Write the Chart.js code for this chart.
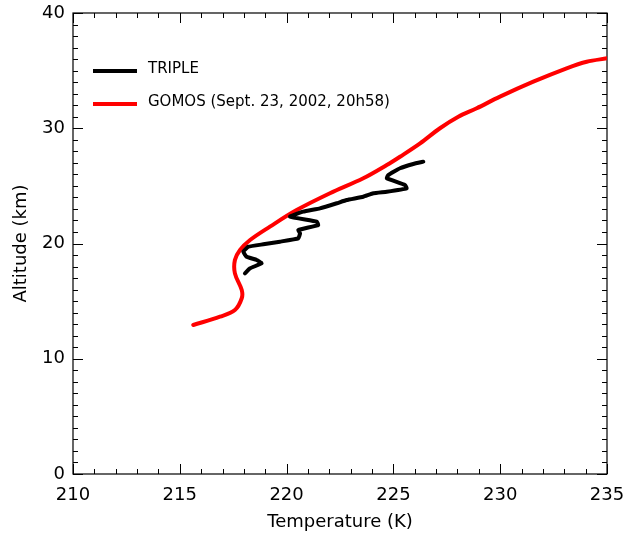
<!DOCTYPE html>
<html>
<head>
<meta charset="utf-8">
<script src="https://cdn.jsdelivr.net/npm/chart.js@4"></script>
<style>
  html, body { margin: 0; padding: 0; background: #ffffff; }
  #wrap { width: 626px; height: 534px; }
</style>
</head>
<body>
<div id="wrap"><canvas id="chart" width="626" height="534"></canvas></div>
<script>
// TRIPLE balloon profile: temperature (K) vs altitude (km)
const tripleTemp = [218.05, 218.29, 218.83, 218.60, 218.13, 217.97, 218.21, 218.91, 219.69, 220.55,
  220.63, 220.55, 221.48, 221.41, 220.16, 220.78, 221.56, 222.35, 222.81, 223.59,
  224.06, 224.69, 225.62, 225.54, 224.69, 224.76, 225.31, 225.93, 226.40];
const tripleAlt = [17.41, 17.85, 18.28, 18.57, 18.85, 19.29, 19.72, 19.93, 20.16, 20.45,
  20.88, 21.17, 21.60, 21.89, 22.33, 22.76, 23.05, 23.49, 23.77, 24.06,
  24.36, 24.49, 24.78, 25.08, 25.66, 25.94, 26.53, 26.90, 27.10];

// GOMOS occultation profile
const gomosTemp = [215.63, 216.88, 217.58, 217.90, 217.90, 217.58, 217.58, 217.82, 218.29, 219.22,
  220.47, 222.03, 223.59, 224.69, 225.31, 226.25, 227.18, 228.04, 228.90, 229.99,
  231.55, 233.11, 234.05, 235.00];
const gomosAlt = [12.93, 13.65, 14.23, 15.25, 15.97, 17.41, 18.57, 19.44, 20.30, 21.46,
  22.90, 24.36, 25.66, 26.81, 27.53, 28.69, 30.00, 31.00, 31.73, 32.74,
  34.04, 35.20, 35.77, 36.07];

const seriesNames = ['TRIPLE', 'GOMOS (Sept. 23, 2002, 20h58)'];
const xRange = [210, 235];
const yRange = [0, 40];

const FONT = '"DejaVu Sans", Arial, sans-serif';

const toPoints = (xs, ys) => xs.map((x, i) => ({ x, y: ys[i] }));

// box frame with inward major/minor ticks on all four sides
const frameTicks = {
  id: 'frameTicks',
  beforeDatasetsDraw(chart) {
    const { ctx, chartArea: a, scales: { x, y } } = chart;
    ctx.save();
    ctx.strokeStyle = '#000';
    ctx.lineWidth = 1.2;
    ctx.strokeRect(a.left, a.top, a.right - a.left, a.bottom - a.top);
    ctx.lineWidth = 1;
    ctx.beginPath();
    for (let v = x.min; v <= x.max + 1e-6; v += 1) {
      const px = Math.round(x.getPixelForValue(v)) + 0.5;
      const len = v % 5 === 0 ? 10 : 5;
      ctx.moveTo(px, a.bottom); ctx.lineTo(px, a.bottom - len);
      ctx.moveTo(px, a.top); ctx.lineTo(px, a.top + len);
    }
    for (let v = y.min; v <= y.max + 1e-6; v += 1) {
      const py = Math.round(y.getPixelForValue(v)) + 0.5;
      const len = v % 10 === 0 ? 10 : 5;
      ctx.moveTo(a.left, py); ctx.lineTo(a.left + len, py);
      ctx.moveTo(a.right, py); ctx.lineTo(a.right - len, py);
    }
    ctx.stroke();
    ctx.restore();
  }
};

// legend drawn inside the plot, upper left
const innerLegend = {
  id: 'innerLegend',
  afterDraw(chart) {
    const { ctx } = chart;
    ctx.save();
    ctx.font = '15px ' + FONT;
    ctx.textBaseline = 'middle';
    ctx.fillStyle = '#000';
    chart.data.datasets.forEach((ds, i) => {
      const ly = 71 + i * 33;
      ctx.strokeStyle = ds.borderColor;
      ctx.lineWidth = 4;
      ctx.beginPath();
      ctx.moveTo(93, ly);
      ctx.lineTo(137, ly);
      ctx.stroke();
      ctx.fillText(ds.label, 148, ly - 2);
    });
    ctx.restore();
  }
};

new Chart(document.getElementById('chart'), {
  type: 'scatter',
  data: {
    datasets: [
      {
        label: seriesNames[0],
        data: toPoints(tripleTemp, tripleAlt),
        showLine: true,
        borderColor: '#000000',
        borderWidth: 4,
        pointRadius: 0,
        tension: 0.1,
        borderCapStyle: 'round',
        borderJoinStyle: 'round'
      },
      {
        label: seriesNames[1],
        data: toPoints(gomosTemp, gomosAlt),
        showLine: true,
        borderColor: '#ff0000',
        borderWidth: 4,
        pointRadius: 0,
        tension: 0.35,
        borderCapStyle: 'round',
        borderJoinStyle: 'round'
      }
    ]
  },
  options: {
    responsive: false,
    animation: false,
    layout: { padding: { top: 13, right: 19, left: 0, bottom: 0 } },
    plugins: {
      legend: { display: false },
      tooltip: { enabled: false }
    },
    scales: {
      x: {
        type: 'linear',
        min: xRange[0],
        max: xRange[1],
        grid: { display: false, drawTicks: false },
        border: { display: false },
        ticks: { stepSize: 5, padding: 11, color: '#000', font: { family: FONT, size: 18 }, maxRotation: 0 },
        title: { display: true, text: 'Temperature (K)', color: '#000', font: { family: FONT, size: 18 }, padding: { top: 0, bottom: 1 } },
        afterFit(scale) {
          scale.height = 60;
          scale.paddingLeft = 0;
          scale.paddingRight = 0;
        }
      },
      y: {
        type: 'linear',
        min: yRange[0],
        max: yRange[1],
        grid: { display: false, drawTicks: false },
        border: { display: false },
        ticks: { stepSize: 10, padding: 8, color: '#000', font: { family: FONT, size: 18 } },
        title: { display: true, text: 'Altitude (km)', color: '#000', font: { family: FONT, size: 18 }, padding: { top: 11, bottom: 0 } },
        afterFit(scale) {
          scale.width = 73;
          scale.paddingTop = 0;
          scale.paddingBottom = 0;
        }
      }
    }
  },
  plugins: [frameTicks, innerLegend]
});
</script>
</body>
</html>
